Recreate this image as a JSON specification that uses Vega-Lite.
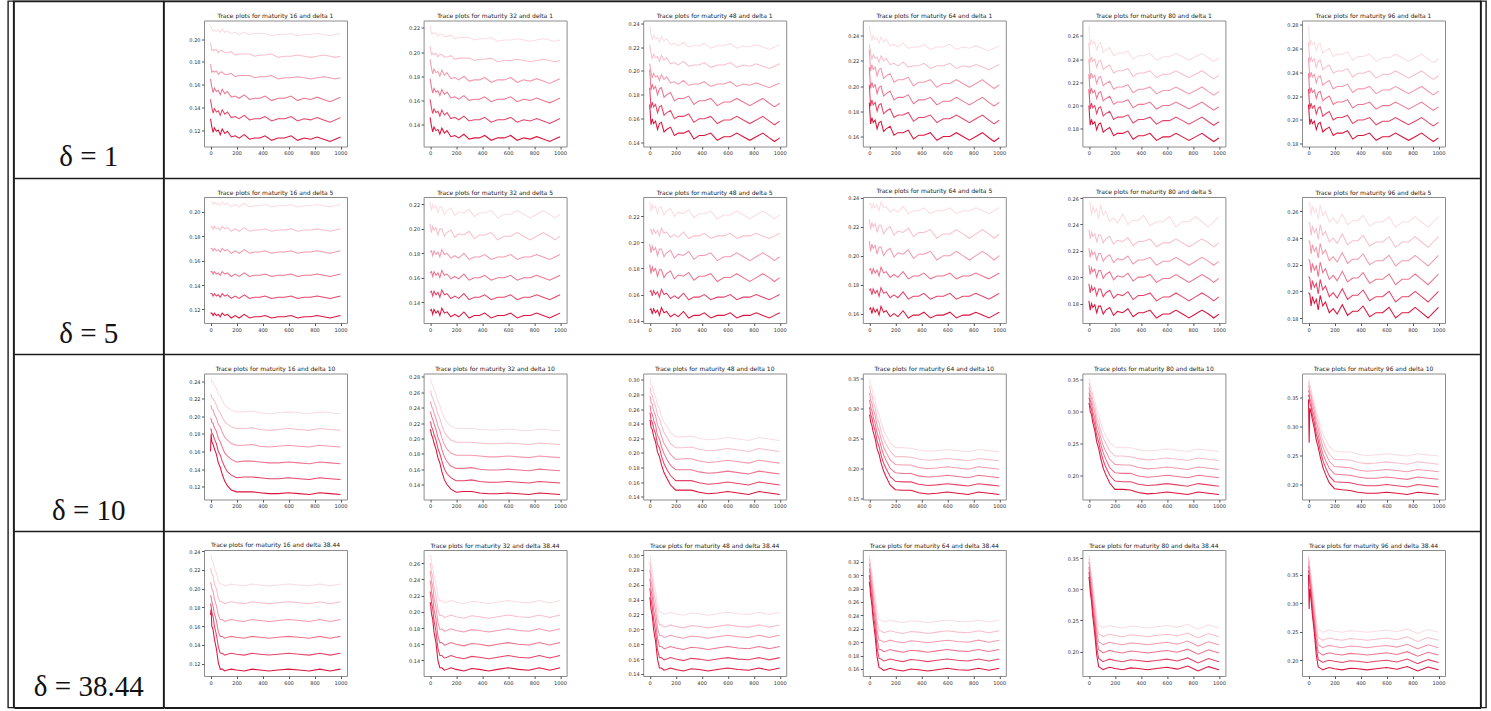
{
"$schema":"https://vega.github.io/schema/vega-lite/v6.json",
"background":"white",
"padding":{"left":7,"top":0,"right":0,"bottom":0},
"config":{"view":{"stroke":"#8c8c8c","strokeWidth":1},"font":"DejaVu Sans"},
"bounds":"flush",
"spacing":19.5,
"vconcat":[
{"hconcat":[
{"width":5.5,"height":706.5,"view":{"stroke":"#1c1c1c","strokeWidth":1.4},"data":{"values":[{}]},"mark":"text","encoding":{"text":{"value":" "}}},
{"width":149.5,"height":706.5,"view":{"stroke":"#1c1c1c","strokeWidth":1.4},
 "data":{"values":[{"d":"1","lab":"δ = 1"},{"d":"5","lab":"δ = 5"},{"d":"10","lab":"δ = 10"},{"d":"38.44","lab":"δ = 38.44"}]},
 "mark":{"type":"text","font":"Liberation Serif","fontSize":29,"align":"center","baseline":"alphabetic","color":"#111","dy":77},
 "encoding":{"y":{"field":"d","type":"nominal","scale":{"domain":["1","5","10","38.44"],"paddingInner":0,"paddingOuter":0},"axis":{"title":null,"labels":false,"ticks":false,"domain":false,"grid":true,"gridColor":"#1c1c1c","gridWidth":1.4,"tickBand":"extent"}},"text":{"field":"lab"}}},
{"width":1316.5,"height":706.5,"view":{"stroke":"#1c1c1c","strokeWidth":1.4},
 "data":{"values":[{"d":"1"},{"d":"5"},{"d":"10"},{"d":"38.44"}]},
 "mark":"text",
 "encoding":{"y":{"field":"d","type":"nominal","scale":{"domain":["1","5","10","38.44"],"paddingInner":0,"paddingOuter":0},"axis":{"title":null,"labels":false,"ticks":false,"domain":false,"grid":true,"gridColor":"#1c1c1c","gridWidth":1.4,"tickBand":"extent"}},"text":{"value":" "}}},
{"width":5,"height":706.5,"view":{"stroke":"#1c1c1c","strokeWidth":1.4},"data":{"values":[{}]},"mark":"text","encoding":{"text":{"value":" "}}}
],"spacing":0,"bounds":"flush"},
{"hconcat":[
{"width":196,"height":1,"view":{"stroke":null},"data":{"values":[{}]},"mark":"text","encoding":{"text":{"value":" "}}},
{
"data":{"values":[
{"t":"Trace plots for maturity 16 and delta 1","x":[0,10,20,30,45,60,75,90,110,130,160,190,220,260,300,340,380,420,470,520,570,620,670,720,770,820,870,920,960,1000],
"s1":[0.212,0.209,0.207,0.208,0.207,0.208,0.206,0.209,0.206,0.207,0.205,0.206,0.204,0.206,0.204,0.205,0.205,0.205,0.203,0.204,0.204,0.205,0.203,0.204,0.204,0.205,0.204,0.203,0.204,0.205],
"s2":[0.197,0.190,0.191,0.190,0.191,0.188,0.190,0.190,0.188,0.188,0.189,0.186,0.187,0.187,0.187,0.185,0.186,0.186,0.187,0.184,0.185,0.185,0.186,0.185,0.184,0.185,0.186,0.185,0.184,0.185],
"s3":[0.178,0.171,0.172,0.171,0.172,0.169,0.171,0.171,0.169,0.169,0.170,0.167,0.168,0.168,0.168,0.166,0.167,0.167,0.168,0.165,0.166,0.166,0.167,0.166,0.165,0.166,0.167,0.166,0.165,0.166],
"s4":[0.165,0.158,0.153,0.157,0.154,0.155,0.151,0.156,0.152,0.154,0.149,0.150,0.148,0.151,0.147,0.148,0.148,0.150,0.146,0.148,0.148,0.150,0.146,0.148,0.147,0.149,0.147,0.145,0.147,0.149],
"s5":[0.147,0.140,0.135,0.139,0.136,0.137,0.133,0.138,0.134,0.136,0.131,0.132,0.130,0.133,0.129,0.130,0.130,0.132,0.128,0.130,0.130,0.132,0.128,0.130,0.129,0.131,0.129,0.127,0.129,0.131],
"s6":[0.130,0.123,0.118,0.122,0.119,0.120,0.116,0.121,0.117,0.119,0.114,0.115,0.113,0.116,0.112,0.113,0.113,0.115,0.111,0.113,0.113,0.115,0.111,0.113,0.112,0.114,0.112,0.110,0.112,0.114]},
{"t":"Trace plots for maturity 32 and delta 1","x":[0,10,20,30,45,60,75,90,110,130,160,190,220,260,300,340,380,420,470,520,570,620,670,720,770,820,870,920,960,1000],
"s1":[0.222,0.215,0.216,0.215,0.216,0.213,0.215,0.215,0.213,0.213,0.214,0.211,0.212,0.212,0.212,0.210,0.211,0.211,0.212,0.209,0.210,0.210,0.211,0.210,0.209,0.210,0.211,0.210,0.209,0.210],
"s2":[0.205,0.198,0.199,0.198,0.199,0.196,0.198,0.198,0.196,0.196,0.197,0.194,0.195,0.195,0.195,0.193,0.194,0.194,0.195,0.192,0.193,0.193,0.194,0.193,0.192,0.193,0.194,0.193,0.192,0.193],
"s3":[0.194,0.187,0.182,0.186,0.183,0.184,0.180,0.185,0.181,0.183,0.178,0.179,0.177,0.180,0.176,0.177,0.177,0.179,0.175,0.177,0.177,0.179,0.175,0.177,0.176,0.178,0.176,0.174,0.176,0.178],
"s4":[0.178,0.171,0.166,0.170,0.167,0.168,0.164,0.169,0.165,0.167,0.162,0.163,0.161,0.164,0.160,0.161,0.161,0.163,0.159,0.161,0.161,0.163,0.159,0.161,0.160,0.162,0.160,0.158,0.160,0.162],
"s5":[0.161,0.154,0.149,0.153,0.150,0.151,0.147,0.152,0.148,0.150,0.145,0.146,0.144,0.147,0.143,0.144,0.144,0.146,0.142,0.144,0.144,0.146,0.142,0.144,0.143,0.145,0.143,0.141,0.143,0.145],
"s6":[0.146,0.139,0.134,0.138,0.135,0.136,0.132,0.137,0.133,0.135,0.130,0.131,0.129,0.132,0.128,0.129,0.129,0.131,0.127,0.129,0.129,0.131,0.127,0.129,0.128,0.130,0.128,0.126,0.128,0.130]},
{"t":"Trace plots for maturity 48 and delta 1","x":[0,10,20,30,45,60,75,90,110,130,160,190,220,260,300,340,380,420,470,520,570,620,670,720,770,820,870,920,960,1000],
"s1":[0.238,0.231,0.226,0.230,0.227,0.228,0.224,0.229,0.225,0.227,0.222,0.223,0.221,0.224,0.220,0.221,0.221,0.223,0.219,0.221,0.221,0.223,0.219,0.221,0.220,0.222,0.220,0.218,0.220,0.222],
"s2":[0.222,0.215,0.210,0.214,0.211,0.212,0.208,0.213,0.209,0.211,0.206,0.207,0.205,0.208,0.204,0.205,0.205,0.207,0.203,0.205,0.205,0.207,0.203,0.205,0.204,0.206,0.204,0.202,0.204,0.206],
"s3":[0.206,0.199,0.194,0.198,0.195,0.196,0.192,0.197,0.193,0.195,0.190,0.191,0.189,0.192,0.188,0.189,0.189,0.191,0.187,0.189,0.189,0.191,0.187,0.189,0.188,0.190,0.188,0.186,0.188,0.190],
"s4":[0.201,0.184,0.189,0.185,0.187,0.180,0.185,0.186,0.178,0.180,0.182,0.175,0.177,0.177,0.179,0.172,0.175,0.175,0.177,0.171,0.174,0.174,0.177,0.174,0.171,0.174,0.177,0.173,0.170,0.173],
"s5":[0.186,0.169,0.174,0.170,0.172,0.165,0.170,0.171,0.163,0.165,0.167,0.160,0.162,0.162,0.164,0.157,0.160,0.160,0.162,0.156,0.159,0.159,0.162,0.159,0.156,0.159,0.162,0.158,0.155,0.158],
"s6":[0.172,0.155,0.160,0.156,0.158,0.151,0.156,0.157,0.149,0.151,0.153,0.146,0.148,0.148,0.150,0.143,0.146,0.146,0.148,0.142,0.145,0.145,0.148,0.145,0.142,0.145,0.148,0.144,0.141,0.144]},
{"t":"Trace plots for maturity 64 and delta 1","x":[0,10,20,30,45,60,75,90,110,130,160,190,220,260,300,340,380,420,470,520,570,620,670,720,770,820,870,920,960,1000],
"s1":[0.248,0.241,0.236,0.240,0.237,0.238,0.234,0.239,0.235,0.237,0.232,0.233,0.231,0.234,0.230,0.231,0.231,0.233,0.229,0.231,0.231,0.233,0.229,0.231,0.230,0.232,0.230,0.228,0.230,0.232],
"s2":[0.233,0.226,0.221,0.225,0.222,0.223,0.219,0.224,0.220,0.222,0.217,0.218,0.216,0.219,0.215,0.216,0.216,0.218,0.214,0.216,0.216,0.218,0.214,0.216,0.215,0.217,0.215,0.213,0.215,0.217],
"s3":[0.229,0.212,0.217,0.213,0.215,0.208,0.213,0.214,0.206,0.208,0.210,0.203,0.205,0.205,0.207,0.200,0.203,0.203,0.205,0.199,0.202,0.202,0.205,0.202,0.199,0.202,0.205,0.201,0.198,0.201],
"s4":[0.215,0.198,0.203,0.199,0.201,0.194,0.199,0.200,0.192,0.194,0.196,0.189,0.191,0.191,0.193,0.186,0.189,0.189,0.191,0.185,0.188,0.188,0.191,0.188,0.185,0.188,0.191,0.187,0.184,0.187],
"s5":[0.201,0.184,0.189,0.185,0.187,0.180,0.185,0.186,0.178,0.180,0.182,0.175,0.177,0.177,0.179,0.172,0.175,0.175,0.177,0.171,0.174,0.174,0.177,0.174,0.171,0.174,0.177,0.173,0.170,0.173],
"s6":[0.187,0.170,0.175,0.171,0.173,0.166,0.171,0.172,0.164,0.166,0.168,0.161,0.163,0.163,0.165,0.158,0.161,0.161,0.163,0.157,0.160,0.160,0.163,0.160,0.157,0.160,0.163,0.159,0.156,0.159]},
{"t":"Trace plots for maturity 80 and delta 1","x":[0,10,20,30,45,60,75,90,110,130,160,190,220,260,300,340,380,420,470,520,570,620,670,720,770,820,870,920,960,1000],
"s1":[0.269,0.252,0.257,0.253,0.255,0.248,0.253,0.254,0.246,0.248,0.250,0.243,0.245,0.245,0.247,0.240,0.243,0.243,0.245,0.239,0.242,0.242,0.245,0.242,0.239,0.242,0.245,0.241,0.238,0.241],
"s2":[0.254,0.237,0.242,0.238,0.240,0.233,0.238,0.239,0.231,0.233,0.235,0.228,0.230,0.230,0.232,0.225,0.228,0.228,0.230,0.224,0.227,0.227,0.230,0.227,0.224,0.227,0.230,0.226,0.223,0.226],
"s3":[0.240,0.223,0.228,0.224,0.226,0.219,0.224,0.225,0.217,0.219,0.221,0.214,0.216,0.216,0.218,0.211,0.214,0.214,0.216,0.210,0.213,0.213,0.216,0.213,0.210,0.213,0.216,0.212,0.209,0.212],
"s4":[0.227,0.210,0.215,0.211,0.213,0.206,0.211,0.212,0.204,0.206,0.208,0.201,0.203,0.203,0.205,0.198,0.201,0.201,0.203,0.197,0.200,0.200,0.203,0.200,0.197,0.200,0.203,0.199,0.196,0.199],
"s5":[0.214,0.197,0.202,0.198,0.200,0.193,0.198,0.199,0.191,0.193,0.195,0.188,0.190,0.190,0.192,0.185,0.188,0.188,0.190,0.184,0.187,0.187,0.190,0.187,0.184,0.187,0.190,0.186,0.183,0.186],
"s6":[0.200,0.183,0.188,0.184,0.186,0.179,0.184,0.185,0.177,0.179,0.181,0.174,0.176,0.176,0.178,0.171,0.174,0.174,0.176,0.170,0.173,0.173,0.176,0.173,0.170,0.173,0.176,0.172,0.169,0.172]},
{"t":"Trace plots for maturity 96 and delta 1","x":[0,10,20,30,45,60,75,90,110,130,160,190,220,260,300,340,380,420,470,520,570,620,670,720,770,820,870,920,960,1000],
"s1":[0.279,0.262,0.267,0.263,0.265,0.258,0.263,0.264,0.256,0.258,0.260,0.253,0.255,0.255,0.257,0.250,0.253,0.253,0.255,0.249,0.252,0.252,0.255,0.252,0.249,0.252,0.255,0.251,0.248,0.251],
"s2":[0.265,0.248,0.253,0.249,0.251,0.244,0.249,0.250,0.242,0.244,0.246,0.239,0.241,0.241,0.243,0.236,0.239,0.239,0.241,0.235,0.238,0.238,0.241,0.238,0.235,0.238,0.241,0.237,0.234,0.237],
"s3":[0.252,0.235,0.240,0.236,0.238,0.231,0.236,0.237,0.229,0.231,0.233,0.226,0.228,0.228,0.230,0.223,0.226,0.226,0.228,0.222,0.225,0.225,0.228,0.225,0.222,0.225,0.228,0.224,0.221,0.224],
"s4":[0.239,0.222,0.227,0.223,0.225,0.218,0.223,0.224,0.216,0.218,0.220,0.213,0.215,0.215,0.217,0.210,0.213,0.213,0.215,0.209,0.212,0.212,0.215,0.212,0.209,0.212,0.215,0.211,0.208,0.211],
"s5":[0.226,0.209,0.214,0.210,0.212,0.205,0.210,0.211,0.203,0.205,0.207,0.200,0.202,0.202,0.204,0.197,0.200,0.200,0.202,0.196,0.199,0.199,0.202,0.199,0.196,0.199,0.202,0.198,0.195,0.198],
"s6":[0.213,0.196,0.201,0.197,0.199,0.192,0.197,0.198,0.190,0.192,0.194,0.187,0.189,0.189,0.191,0.184,0.187,0.187,0.189,0.183,0.186,0.186,0.189,0.186,0.183,0.186,0.189,0.185,0.182,0.185]},
{"t":"Trace plots for maturity 16 and delta 5","x":[0,10,20,30,45,60,75,90,110,130,160,190,220,260,300,340,380,420,470,520,570,620,670,720,770,820,870,920,960,1000],
"s1":[0.208,0.208,0.206,0.208,0.206,0.207,0.205,0.208,0.206,0.207,0.204,0.206,0.204,0.207,0.204,0.205,0.205,0.206,0.204,0.205,0.205,0.206,0.204,0.205,0.205,0.206,0.205,0.204,0.205,0.206],
"s2":[0.188,0.188,0.186,0.188,0.186,0.187,0.185,0.188,0.186,0.187,0.184,0.186,0.184,0.187,0.184,0.185,0.185,0.186,0.184,0.185,0.185,0.186,0.184,0.185,0.185,0.186,0.185,0.184,0.185,0.186],
"s3":[0.170,0.170,0.168,0.170,0.168,0.169,0.167,0.170,0.168,0.169,0.166,0.168,0.166,0.169,0.166,0.167,0.167,0.168,0.166,0.167,0.167,0.168,0.166,0.167,0.167,0.168,0.167,0.166,0.167,0.168],
"s4":[0.151,0.151,0.149,0.151,0.149,0.150,0.148,0.151,0.149,0.150,0.147,0.149,0.147,0.150,0.147,0.148,0.148,0.149,0.147,0.148,0.148,0.149,0.147,0.148,0.148,0.149,0.148,0.147,0.148,0.149],
"s5":[0.133,0.133,0.131,0.133,0.131,0.132,0.130,0.133,0.131,0.132,0.129,0.131,0.129,0.132,0.129,0.130,0.130,0.131,0.129,0.130,0.130,0.131,0.129,0.130,0.130,0.131,0.130,0.129,0.130,0.131],
"s6":[0.117,0.117,0.115,0.117,0.115,0.116,0.114,0.117,0.115,0.116,0.113,0.115,0.113,0.116,0.113,0.114,0.114,0.115,0.113,0.114,0.114,0.115,0.113,0.114,0.114,0.115,0.114,0.113,0.114,0.115]},
{"t":"Trace plots for maturity 32 and delta 5","x":[0,10,20,30,45,60,75,90,110,130,160,190,220,260,300,340,380,420,470,520,570,620,670,720,770,820,870,920,960,1000],
"s1":[0.222,0.215,0.220,0.217,0.219,0.213,0.218,0.218,0.212,0.215,0.217,0.211,0.214,0.213,0.216,0.210,0.213,0.213,0.215,0.209,0.212,0.212,0.215,0.212,0.209,0.212,0.215,0.212,0.209,0.212],
"s2":[0.204,0.197,0.202,0.199,0.201,0.195,0.200,0.200,0.194,0.197,0.199,0.193,0.196,0.195,0.198,0.192,0.195,0.195,0.197,0.191,0.194,0.194,0.197,0.194,0.191,0.194,0.197,0.194,0.191,0.194],
"s3":[0.181,0.182,0.178,0.182,0.179,0.181,0.177,0.183,0.179,0.180,0.176,0.178,0.176,0.180,0.175,0.177,0.177,0.179,0.175,0.177,0.177,0.179,0.175,0.177,0.177,0.179,0.177,0.175,0.177,0.179],
"s4":[0.164,0.165,0.161,0.165,0.162,0.164,0.160,0.166,0.162,0.163,0.159,0.161,0.159,0.163,0.158,0.160,0.160,0.162,0.158,0.160,0.160,0.162,0.158,0.160,0.160,0.162,0.160,0.158,0.160,0.162],
"s5":[0.148,0.149,0.145,0.149,0.146,0.148,0.144,0.150,0.146,0.147,0.143,0.145,0.143,0.147,0.142,0.144,0.144,0.146,0.142,0.144,0.144,0.146,0.142,0.144,0.144,0.146,0.144,0.142,0.144,0.146],
"s6":[0.133,0.134,0.130,0.134,0.131,0.133,0.129,0.135,0.131,0.132,0.128,0.130,0.128,0.132,0.127,0.129,0.129,0.131,0.127,0.129,0.129,0.131,0.127,0.129,0.129,0.131,0.129,0.127,0.129,0.131]},
{"t":"Trace plots for maturity 48 and delta 5","x":[0,10,20,30,45,60,75,90,110,130,160,190,220,260,300,340,380,420,470,520,570,620,670,720,770,820,870,920,960,1000],
"s1":[0.231,0.224,0.229,0.226,0.228,0.222,0.227,0.227,0.221,0.224,0.226,0.220,0.223,0.222,0.225,0.219,0.222,0.222,0.224,0.218,0.221,0.221,0.224,0.221,0.218,0.221,0.224,0.221,0.218,0.221],
"s2":[0.209,0.210,0.206,0.210,0.207,0.209,0.205,0.211,0.207,0.208,0.204,0.206,0.204,0.208,0.203,0.205,0.205,0.207,0.203,0.205,0.205,0.207,0.203,0.205,0.205,0.207,0.205,0.203,0.205,0.207],
"s3":[0.199,0.192,0.197,0.194,0.196,0.190,0.195,0.195,0.189,0.192,0.194,0.188,0.191,0.190,0.193,0.187,0.190,0.190,0.192,0.186,0.189,0.189,0.192,0.189,0.186,0.189,0.192,0.189,0.186,0.189],
"s4":[0.183,0.176,0.181,0.178,0.180,0.174,0.179,0.179,0.173,0.176,0.178,0.172,0.175,0.174,0.177,0.171,0.174,0.174,0.176,0.170,0.173,0.173,0.176,0.173,0.170,0.173,0.176,0.173,0.170,0.173],
"s5":[0.162,0.163,0.159,0.163,0.160,0.162,0.158,0.164,0.160,0.161,0.157,0.159,0.157,0.161,0.156,0.158,0.158,0.160,0.156,0.158,0.158,0.160,0.156,0.158,0.158,0.160,0.158,0.156,0.158,0.160],
"s6":[0.148,0.149,0.145,0.149,0.146,0.148,0.144,0.150,0.146,0.147,0.143,0.145,0.143,0.147,0.142,0.144,0.144,0.146,0.142,0.144,0.144,0.146,0.142,0.144,0.144,0.146,0.144,0.142,0.144,0.146]},
{"t":"Trace plots for maturity 64 and delta 5","x":[0,10,20,30,45,60,75,90,110,130,160,190,220,260,300,340,380,420,470,520,570,620,670,720,770,820,870,920,960,1000],
"s1":[0.235,0.236,0.232,0.236,0.233,0.235,0.231,0.237,0.233,0.234,0.230,0.232,0.230,0.234,0.229,0.231,0.231,0.233,0.229,0.231,0.231,0.233,0.229,0.231,0.231,0.233,0.231,0.229,0.231,0.233],
"s2":[0.225,0.218,0.223,0.220,0.222,0.216,0.221,0.221,0.215,0.218,0.220,0.214,0.217,0.216,0.219,0.213,0.216,0.216,0.218,0.212,0.215,0.215,0.218,0.215,0.212,0.215,0.218,0.215,0.212,0.215],
"s3":[0.210,0.203,0.208,0.205,0.207,0.201,0.206,0.206,0.200,0.203,0.205,0.199,0.202,0.201,0.204,0.198,0.201,0.201,0.203,0.197,0.200,0.200,0.203,0.200,0.197,0.200,0.203,0.200,0.197,0.200],
"s4":[0.190,0.191,0.187,0.191,0.188,0.190,0.186,0.192,0.188,0.189,0.185,0.187,0.185,0.189,0.184,0.186,0.186,0.188,0.184,0.186,0.186,0.188,0.184,0.186,0.186,0.188,0.186,0.184,0.186,0.188],
"s5":[0.176,0.177,0.173,0.177,0.174,0.176,0.172,0.178,0.174,0.175,0.171,0.173,0.171,0.175,0.170,0.172,0.172,0.174,0.170,0.172,0.172,0.174,0.170,0.172,0.172,0.174,0.172,0.170,0.172,0.174],
"s6":[0.163,0.164,0.160,0.164,0.161,0.163,0.159,0.165,0.161,0.162,0.158,0.160,0.158,0.162,0.157,0.159,0.159,0.161,0.157,0.159,0.159,0.161,0.157,0.159,0.159,0.161,0.159,0.157,0.159,0.161]},
{"t":"Trace plots for maturity 80 and delta 5","x":[0,10,20,30,45,60,75,90,110,130,160,190,220,260,300,340,380,420,470,520,570,620,670,720,770,820,870,920,960,1000],
"s1":[0.257,0.256,0.247,0.254,0.249,0.252,0.244,0.255,0.247,0.250,0.242,0.245,0.241,0.248,0.240,0.243,0.243,0.247,0.239,0.242,0.242,0.246,0.238,0.242,0.242,0.246,0.242,0.238,0.242,0.246],
"s2":[0.236,0.229,0.234,0.231,0.233,0.227,0.232,0.232,0.226,0.229,0.231,0.225,0.228,0.227,0.230,0.224,0.227,0.227,0.229,0.223,0.226,0.226,0.229,0.226,0.223,0.226,0.229,0.226,0.223,0.226],
"s3":[0.222,0.215,0.220,0.217,0.219,0.213,0.218,0.218,0.212,0.215,0.217,0.211,0.214,0.213,0.216,0.210,0.213,0.213,0.215,0.209,0.212,0.212,0.215,0.212,0.209,0.212,0.215,0.212,0.209,0.212],
"s4":[0.209,0.202,0.207,0.204,0.206,0.200,0.205,0.205,0.199,0.202,0.204,0.198,0.201,0.200,0.203,0.197,0.200,0.200,0.202,0.196,0.199,0.199,0.202,0.199,0.196,0.199,0.202,0.199,0.196,0.199],
"s5":[0.195,0.188,0.193,0.190,0.192,0.186,0.191,0.191,0.185,0.188,0.190,0.184,0.187,0.186,0.189,0.183,0.186,0.186,0.188,0.182,0.185,0.185,0.188,0.185,0.182,0.185,0.188,0.185,0.182,0.185],
"s6":[0.182,0.175,0.180,0.177,0.179,0.173,0.178,0.178,0.172,0.175,0.177,0.171,0.174,0.173,0.176,0.170,0.173,0.173,0.175,0.169,0.172,0.172,0.175,0.172,0.169,0.172,0.175,0.172,0.169,0.172]},
{"t":"Trace plots for maturity 96 and delta 5","x":[0,10,20,30,45,60,75,90,110,130,160,190,220,260,300,340,380,420,470,520,570,620,670,720,770,820,870,920,960,1000],
"s1":[0.267,0.266,0.257,0.264,0.259,0.262,0.254,0.265,0.257,0.260,0.252,0.255,0.251,0.258,0.250,0.253,0.253,0.257,0.249,0.252,0.252,0.256,0.248,0.252,0.252,0.256,0.252,0.248,0.252,0.256],
"s2":[0.252,0.251,0.242,0.249,0.244,0.247,0.239,0.250,0.242,0.245,0.237,0.240,0.236,0.243,0.235,0.238,0.238,0.242,0.234,0.237,0.237,0.241,0.233,0.237,0.237,0.241,0.237,0.233,0.237,0.241],
"s3":[0.238,0.237,0.228,0.235,0.230,0.233,0.225,0.236,0.228,0.231,0.223,0.226,0.222,0.229,0.221,0.224,0.224,0.228,0.220,0.223,0.223,0.227,0.219,0.223,0.223,0.227,0.223,0.219,0.223,0.227],
"s4":[0.224,0.223,0.214,0.221,0.216,0.219,0.211,0.222,0.214,0.217,0.209,0.212,0.208,0.215,0.207,0.210,0.210,0.214,0.206,0.209,0.209,0.213,0.205,0.209,0.209,0.213,0.209,0.205,0.209,0.213],
"s5":[0.211,0.210,0.201,0.208,0.203,0.206,0.198,0.209,0.201,0.204,0.196,0.199,0.195,0.202,0.194,0.197,0.197,0.201,0.193,0.196,0.196,0.200,0.192,0.196,0.196,0.200,0.196,0.192,0.196,0.200],
"s6":[0.199,0.198,0.189,0.196,0.191,0.194,0.186,0.197,0.189,0.192,0.184,0.187,0.183,0.190,0.182,0.185,0.185,0.189,0.181,0.184,0.184,0.188,0.180,0.184,0.184,0.188,0.184,0.180,0.184,0.188]},
{"t":"Trace plots for maturity 16 and delta 10","x":[0,5,10,20,30,45,60,75,90,110,130,160,200,260,320,380,450,520,600,680,760,840,920,1000],
"s1":[0.243,0.243,0.239,0.239,0.235,0.232,0.225,0.223,0.218,0.213,0.210,0.207,0.205,0.205,0.206,0.204,0.203,0.204,0.205,0.204,0.203,0.205,0.204,0.203],
"s2":[0.225,0.225,0.221,0.220,0.217,0.213,0.207,0.204,0.199,0.194,0.191,0.188,0.186,0.186,0.187,0.185,0.184,0.185,0.186,0.185,0.184,0.186,0.185,0.184],
"s3":[0.212,0.212,0.208,0.207,0.202,0.198,0.191,0.188,0.182,0.176,0.173,0.169,0.167,0.167,0.168,0.166,0.165,0.166,0.167,0.166,0.165,0.167,0.166,0.165],
"s4":[0.198,0.197,0.193,0.192,0.187,0.183,0.175,0.171,0.165,0.158,0.155,0.151,0.148,0.149,0.149,0.148,0.147,0.147,0.148,0.147,0.146,0.148,0.147,0.146],
"s5":[0.186,0.185,0.181,0.179,0.174,0.169,0.160,0.156,0.149,0.142,0.137,0.133,0.130,0.131,0.131,0.130,0.129,0.129,0.130,0.129,0.128,0.130,0.129,0.128],
"s6":[0.160,0.180,0.171,0.168,0.163,0.157,0.147,0.142,0.134,0.126,0.121,0.116,0.114,0.114,0.114,0.113,0.112,0.112,0.113,0.112,0.111,0.113,0.112,0.111]},
{"t":"Trace plots for maturity 32 and delta 10","x":[0,5,10,20,30,45,60,75,90,110,130,160,200,260,320,380,450,520,600,680,760,840,920,1000],
"s1":[0.278,0.277,0.272,0.270,0.264,0.258,0.248,0.243,0.234,0.226,0.221,0.216,0.213,0.213,0.213,0.212,0.211,0.211,0.212,0.211,0.210,0.212,0.211,0.210],
"s2":[0.262,0.261,0.256,0.253,0.248,0.241,0.231,0.226,0.217,0.208,0.203,0.198,0.195,0.195,0.195,0.194,0.193,0.193,0.194,0.193,0.192,0.194,0.193,0.192],
"s3":[0.248,0.247,0.242,0.239,0.233,0.226,0.216,0.210,0.201,0.192,0.186,0.181,0.178,0.178,0.178,0.177,0.176,0.176,0.177,0.176,0.175,0.177,0.176,0.175],
"s4":[0.235,0.234,0.229,0.225,0.219,0.212,0.201,0.195,0.186,0.176,0.170,0.164,0.161,0.161,0.162,0.160,0.159,0.159,0.160,0.159,0.158,0.160,0.159,0.158],
"s5":[0.222,0.221,0.215,0.212,0.205,0.198,0.187,0.180,0.171,0.160,0.154,0.149,0.145,0.145,0.146,0.144,0.143,0.143,0.144,0.143,0.142,0.144,0.143,0.142],
"s6":[0.212,0.210,0.205,0.201,0.194,0.186,0.175,0.168,0.157,0.146,0.140,0.134,0.130,0.131,0.131,0.129,0.128,0.128,0.129,0.128,0.127,0.129,0.128,0.127]},
{"t":"Trace plots for maturity 48 and delta 10","x":[0,5,10,20,30,45,60,75,90,110,130,160,200,260,320,380,450,520,600,680,760,840,920,1000],
"s1":[0.302,0.301,0.293,0.292,0.284,0.277,0.265,0.261,0.251,0.242,0.237,0.228,0.222,0.222,0.223,0.220,0.218,0.219,0.221,0.219,0.217,0.221,0.219,0.217],
"s2":[0.290,0.289,0.281,0.279,0.271,0.264,0.252,0.247,0.238,0.228,0.222,0.213,0.207,0.207,0.208,0.205,0.203,0.204,0.206,0.204,0.202,0.206,0.204,0.202],
"s3":[0.278,0.276,0.269,0.267,0.258,0.251,0.238,0.233,0.223,0.213,0.207,0.198,0.191,0.192,0.192,0.189,0.187,0.188,0.190,0.188,0.186,0.190,0.188,0.186],
"s4":[0.265,0.263,0.256,0.253,0.245,0.238,0.224,0.219,0.209,0.199,0.192,0.183,0.177,0.177,0.177,0.174,0.172,0.173,0.175,0.173,0.171,0.175,0.173,0.171],
"s5":[0.255,0.253,0.245,0.242,0.234,0.226,0.212,0.207,0.196,0.185,0.178,0.169,0.162,0.162,0.162,0.159,0.157,0.158,0.160,0.158,0.156,0.160,0.158,0.156],
"s6":[0.245,0.243,0.235,0.232,0.223,0.215,0.201,0.195,0.184,0.173,0.166,0.156,0.149,0.149,0.149,0.146,0.144,0.145,0.147,0.145,0.143,0.147,0.145,0.143]},
{"t":"Trace plots for maturity 64 and delta 10","x":[0,5,10,20,30,45,60,75,90,110,130,160,200,260,320,380,450,520,600,680,760,840,920,1000],
"s1":[0.350,0.347,0.338,0.334,0.324,0.314,0.298,0.290,0.277,0.264,0.255,0.243,0.235,0.235,0.234,0.231,0.229,0.230,0.232,0.230,0.228,0.232,0.230,0.228],
"s2":[0.338,0.335,0.326,0.322,0.311,0.301,0.284,0.276,0.263,0.249,0.240,0.229,0.220,0.220,0.219,0.216,0.214,0.215,0.217,0.215,0.213,0.217,0.215,0.213],
"s3":[0.326,0.323,0.314,0.309,0.299,0.288,0.272,0.263,0.250,0.236,0.227,0.215,0.207,0.206,0.206,0.202,0.200,0.201,0.203,0.201,0.199,0.203,0.201,0.199],
"s4":[0.314,0.311,0.302,0.297,0.286,0.275,0.259,0.250,0.237,0.223,0.213,0.201,0.193,0.192,0.192,0.188,0.186,0.187,0.189,0.187,0.185,0.189,0.187,0.185],
"s5":[0.302,0.299,0.290,0.285,0.274,0.263,0.246,0.237,0.223,0.209,0.200,0.187,0.179,0.178,0.178,0.174,0.172,0.173,0.175,0.173,0.171,0.175,0.173,0.171],
"s6":[0.290,0.287,0.278,0.272,0.261,0.250,0.233,0.224,0.210,0.196,0.186,0.173,0.165,0.164,0.164,0.160,0.158,0.159,0.161,0.159,0.157,0.161,0.159,0.157]},
{"t":"Trace plots for maturity 80 and delta 10","x":[0,5,10,20,30,45,60,75,90,110,130,160,200,260,320,380,450,520,600,680,760,840,920,1000],
"s1":[0.352,0.350,0.341,0.337,0.327,0.318,0.303,0.296,0.284,0.271,0.263,0.252,0.245,0.244,0.244,0.241,0.239,0.240,0.242,0.240,0.238,0.242,0.240,0.238],
"s2":[0.345,0.342,0.333,0.329,0.319,0.309,0.293,0.285,0.272,0.259,0.251,0.239,0.231,0.231,0.230,0.227,0.225,0.226,0.228,0.226,0.224,0.228,0.226,0.224],
"s3":[0.338,0.335,0.326,0.321,0.310,0.300,0.283,0.274,0.261,0.247,0.238,0.226,0.218,0.217,0.217,0.213,0.211,0.212,0.214,0.212,0.210,0.214,0.212,0.210],
"s4":[0.330,0.327,0.318,0.312,0.301,0.290,0.273,0.264,0.250,0.236,0.226,0.213,0.205,0.204,0.204,0.200,0.198,0.199,0.201,0.199,0.197,0.201,0.199,0.197],
"s5":[0.322,0.319,0.309,0.304,0.292,0.280,0.263,0.253,0.239,0.224,0.214,0.201,0.192,0.191,0.191,0.187,0.185,0.186,0.188,0.186,0.184,0.188,0.186,0.184],
"s6":[0.314,0.310,0.301,0.295,0.283,0.271,0.253,0.243,0.228,0.212,0.202,0.189,0.179,0.179,0.178,0.174,0.172,0.173,0.175,0.173,0.171,0.175,0.173,0.171]},
{"t":"Trace plots for maturity 96 and delta 10","x":[0,5,10,20,30,45,60,75,90,110,130,160,200,260,320,380,450,520,600,680,760,840,920,1000],
"s1":[0.382,0.379,0.370,0.364,0.353,0.342,0.325,0.316,0.302,0.288,0.278,0.265,0.257,0.256,0.256,0.252,0.250,0.251,0.253,0.251,0.249,0.253,0.251,0.249],
"s2":[0.376,0.372,0.363,0.357,0.345,0.334,0.316,0.306,0.291,0.276,0.265,0.252,0.243,0.243,0.242,0.238,0.236,0.237,0.239,0.237,0.235,0.239,0.237,0.235],
"s3":[0.370,0.366,0.356,0.350,0.338,0.325,0.307,0.296,0.281,0.265,0.254,0.240,0.231,0.230,0.229,0.225,0.223,0.224,0.226,0.224,0.222,0.226,0.224,0.222],
"s4":[0.362,0.358,0.348,0.341,0.329,0.316,0.297,0.285,0.270,0.253,0.242,0.228,0.218,0.217,0.216,0.213,0.211,0.211,0.213,0.211,0.209,0.213,0.211,0.209],
"s5":[0.354,0.350,0.340,0.333,0.320,0.306,0.286,0.275,0.259,0.242,0.230,0.215,0.205,0.204,0.203,0.200,0.198,0.198,0.200,0.198,0.196,0.200,0.198,0.196],
"s6":[0.346,0.272,0.331,0.324,0.311,0.296,0.276,0.264,0.248,0.230,0.218,0.203,0.193,0.191,0.190,0.187,0.185,0.185,0.187,0.185,0.183,0.187,0.185,0.183]},
{"t":"Trace plots for maturity 16 and delta 38.44","x":[0,5,10,20,30,45,60,75,90,110,130,160,200,260,320,380,450,520,600,680,760,840,920,1000],
"s1":[0.236,0.235,0.231,0.228,0.222,0.217,0.208,0.205,0.205,0.203,0.204,0.205,0.204,0.203,0.205,0.204,0.203,0.204,0.205,0.204,0.203,0.205,0.203,0.205],
"s2":[0.222,0.220,0.216,0.213,0.205,0.200,0.190,0.186,0.186,0.184,0.185,0.186,0.185,0.184,0.186,0.185,0.184,0.185,0.186,0.185,0.184,0.186,0.184,0.186],
"s3":[0.207,0.205,0.200,0.197,0.189,0.182,0.172,0.167,0.167,0.165,0.166,0.167,0.166,0.165,0.167,0.166,0.165,0.166,0.167,0.166,0.165,0.167,0.165,0.167],
"s4":[0.193,0.191,0.186,0.181,0.173,0.166,0.154,0.149,0.149,0.147,0.148,0.149,0.148,0.147,0.149,0.148,0.147,0.148,0.149,0.148,0.147,0.149,0.147,0.149],
"s5":[0.184,0.181,0.175,0.170,0.160,0.151,0.138,0.131,0.131,0.129,0.130,0.131,0.130,0.129,0.131,0.130,0.129,0.130,0.131,0.130,0.129,0.131,0.129,0.131],
"s6":[0.172,0.178,0.160,0.156,0.146,0.136,0.121,0.114,0.114,0.112,0.113,0.114,0.113,0.112,0.114,0.113,0.112,0.113,0.114,0.113,0.112,0.114,0.112,0.114]},
{"t":"Trace plots for maturity 32 and delta 38.44","x":[0,5,10,20,30,45,60,75,90,110,130,160,200,260,320,380,450,520,600,680,760,840,920,1000],
"s1":[0.270,0.268,0.260,0.256,0.244,0.235,0.219,0.213,0.214,0.211,0.212,0.214,0.212,0.210,0.213,0.212,0.210,0.212,0.214,0.212,0.211,0.214,0.211,0.214],
"s2":[0.260,0.257,0.249,0.244,0.230,0.220,0.203,0.195,0.196,0.193,0.194,0.196,0.194,0.192,0.195,0.194,0.192,0.194,0.196,0.194,0.193,0.196,0.193,0.196],
"s3":[0.250,0.247,0.238,0.232,0.217,0.206,0.187,0.178,0.179,0.176,0.177,0.179,0.177,0.175,0.178,0.177,0.175,0.177,0.179,0.177,0.176,0.179,0.176,0.179],
"s4":[0.238,0.235,0.225,0.218,0.203,0.191,0.170,0.162,0.162,0.159,0.160,0.162,0.160,0.158,0.161,0.160,0.158,0.160,0.162,0.160,0.159,0.162,0.159,0.162],
"s5":[0.225,0.221,0.212,0.204,0.189,0.176,0.155,0.146,0.146,0.143,0.144,0.146,0.144,0.142,0.145,0.144,0.142,0.144,0.146,0.144,0.143,0.146,0.143,0.146],
"s6":[0.212,0.208,0.198,0.191,0.175,0.162,0.140,0.131,0.131,0.128,0.129,0.131,0.129,0.127,0.130,0.129,0.127,0.129,0.131,0.129,0.128,0.131,0.128,0.131]},
{"t":"Trace plots for maturity 48 and delta 38.44","x":[0,5,10,20,30,45,60,75,90,110,130,160,200,260,320,380,450,520,600,680,760,840,920,1000],
"s1":[0.300,0.296,0.287,0.280,0.265,0.252,0.232,0.223,0.223,0.220,0.221,0.223,0.221,0.219,0.222,0.221,0.219,0.221,0.223,0.221,0.220,0.223,0.220,0.223],
"s2":[0.290,0.286,0.276,0.268,0.252,0.238,0.216,0.206,0.206,0.203,0.204,0.206,0.204,0.202,0.205,0.204,0.202,0.204,0.206,0.204,0.203,0.206,0.203,0.206],
"s3":[0.280,0.276,0.265,0.257,0.240,0.225,0.202,0.192,0.192,0.189,0.190,0.192,0.190,0.188,0.191,0.190,0.188,0.190,0.192,0.190,0.189,0.192,0.189,0.192],
"s4":[0.268,0.263,0.253,0.244,0.227,0.211,0.188,0.177,0.177,0.174,0.175,0.177,0.175,0.173,0.176,0.175,0.173,0.175,0.177,0.175,0.174,0.177,0.174,0.177],
"s5":[0.255,0.250,0.240,0.230,0.213,0.197,0.173,0.162,0.162,0.159,0.160,0.162,0.160,0.158,0.161,0.160,0.158,0.160,0.162,0.160,0.159,0.162,0.159,0.162],
"s6":[0.243,0.238,0.227,0.218,0.200,0.184,0.160,0.148,0.148,0.145,0.146,0.148,0.146,0.144,0.147,0.146,0.144,0.146,0.148,0.146,0.145,0.148,0.145,0.148]},
{"t":"Trace plots for maturity 64 and delta 38.44","x":[0,5,10,20,30,45,60,75,90,110,130,160,200,260,320,380,450,520,600,680,760,840,920,1000],
"s1":[0.330,0.325,0.314,0.304,0.286,0.270,0.245,0.233,0.233,0.230,0.231,0.233,0.231,0.229,0.232,0.231,0.229,0.231,0.233,0.231,0.230,0.233,0.230,0.233],
"s2":[0.325,0.319,0.308,0.296,0.277,0.258,0.231,0.217,0.217,0.214,0.215,0.217,0.215,0.213,0.216,0.215,0.213,0.215,0.217,0.215,0.214,0.217,0.214,0.217],
"s3":[0.318,0.312,0.300,0.287,0.267,0.246,0.218,0.203,0.203,0.200,0.201,0.203,0.201,0.199,0.202,0.201,0.199,0.201,0.203,0.201,0.200,0.203,0.200,0.203],
"s4":[0.310,0.303,0.291,0.278,0.256,0.235,0.205,0.189,0.189,0.186,0.187,0.189,0.187,0.185,0.188,0.187,0.185,0.187,0.189,0.187,0.186,0.189,0.186,0.189],
"s5":[0.300,0.293,0.280,0.266,0.245,0.222,0.191,0.176,0.175,0.172,0.173,0.175,0.173,0.171,0.174,0.173,0.171,0.173,0.175,0.173,0.172,0.175,0.172,0.175],
"s6":[0.290,0.283,0.270,0.255,0.233,0.209,0.178,0.162,0.161,0.158,0.159,0.161,0.159,0.157,0.160,0.159,0.157,0.159,0.161,0.159,0.158,0.161,0.158,0.161]},
{"t":"Trace plots for maturity 80 and delta 38.44","x":[0,5,10,20,30,45,60,75,90,110,130,160,200,260,320,380,450,520,600,680,760,840,920,1000],
"s1":[0.355,0.349,0.337,0.325,0.305,0.285,0.256,0.242,0.241,0.238,0.240,0.242,0.240,0.238,0.241,0.240,0.238,0.240,0.242,0.239,0.244,0.236,0.243,0.238],
"s2":[0.350,0.343,0.331,0.317,0.296,0.274,0.244,0.228,0.227,0.224,0.226,0.228,0.226,0.224,0.227,0.226,0.224,0.226,0.228,0.225,0.230,0.222,0.229,0.224],
"s3":[0.344,0.337,0.324,0.309,0.287,0.263,0.232,0.216,0.214,0.211,0.213,0.215,0.213,0.211,0.214,0.213,0.211,0.213,0.215,0.212,0.217,0.209,0.216,0.211],
"s4":[0.336,0.328,0.315,0.300,0.277,0.252,0.220,0.203,0.201,0.198,0.200,0.202,0.200,0.198,0.201,0.200,0.198,0.200,0.202,0.199,0.204,0.196,0.203,0.198],
"s5":[0.328,0.320,0.306,0.290,0.266,0.241,0.207,0.189,0.187,0.184,0.186,0.188,0.186,0.184,0.187,0.186,0.184,0.186,0.188,0.185,0.190,0.182,0.189,0.184],
"s6":[0.320,0.312,0.297,0.281,0.256,0.229,0.195,0.176,0.174,0.171,0.173,0.175,0.173,0.171,0.174,0.173,0.171,0.173,0.175,0.172,0.177,0.169,0.176,0.171]},
{"t":"Trace plots for maturity 96 and delta 38.44","x":[0,5,10,20,30,45,60,75,90,110,130,160,200,260,320,380,450,520,600,680,760,840,920,1000],
"s1":[0.385,0.378,0.364,0.349,0.327,0.303,0.270,0.254,0.252,0.249,0.251,0.253,0.251,0.249,0.252,0.251,0.249,0.251,0.253,0.250,0.255,0.247,0.254,0.249],
"s2":[0.380,0.372,0.358,0.342,0.318,0.292,0.258,0.240,0.238,0.235,0.237,0.239,0.237,0.235,0.238,0.237,0.235,0.237,0.239,0.236,0.241,0.233,0.240,0.235],
"s3":[0.374,0.366,0.351,0.334,0.309,0.282,0.246,0.227,0.225,0.222,0.224,0.226,0.224,0.222,0.225,0.224,0.222,0.224,0.226,0.223,0.228,0.220,0.227,0.222],
"s4":[0.366,0.357,0.342,0.325,0.299,0.270,0.234,0.214,0.212,0.209,0.211,0.213,0.211,0.209,0.212,0.211,0.209,0.211,0.213,0.210,0.215,0.207,0.214,0.209],
"s5":[0.358,0.349,0.334,0.315,0.289,0.259,0.222,0.201,0.199,0.196,0.198,0.200,0.198,0.196,0.199,0.198,0.196,0.198,0.200,0.197,0.202,0.194,0.201,0.196],
"s6":[0.350,0.290,0.325,0.306,0.279,0.248,0.209,0.188,0.186,0.183,0.185,0.187,0.185,0.183,0.186,0.185,0.183,0.185,0.187,0.184,0.189,0.181,0.188,0.183]}
]},
"transform":[{"flatten":["x","s1","s2","s3","s4","s5","s6"]},{"fold":["s1","s2","s3","s4","s5","s6"],"as":["k","y"]}],
"facet":{"field":"t","type":"nominal","sort":["Trace plots for maturity 16 and delta 1","Trace plots for maturity 32 and delta 1","Trace plots for maturity 48 and delta 1","Trace plots for maturity 64 and delta 1","Trace plots for maturity 80 and delta 1","Trace plots for maturity 96 and delta 1","Trace plots for maturity 16 and delta 5","Trace plots for maturity 32 and delta 5","Trace plots for maturity 48 and delta 5","Trace plots for maturity 64 and delta 5","Trace plots for maturity 80 and delta 5","Trace plots for maturity 96 and delta 5","Trace plots for maturity 16 and delta 10","Trace plots for maturity 32 and delta 10","Trace plots for maturity 48 and delta 10","Trace plots for maturity 64 and delta 10","Trace plots for maturity 80 and delta 10","Trace plots for maturity 96 and delta 10","Trace plots for maturity 16 and delta 38.44","Trace plots for maturity 32 and delta 38.44","Trace plots for maturity 48 and delta 38.44","Trace plots for maturity 64 and delta 38.44","Trace plots for maturity 80 and delta 38.44","Trace plots for maturity 96 and delta 38.44"],
 "header":{"title":null,"labelFontSize":6,"labelFont":"DejaVu Sans","labelColor":"#222","labelPadding":1.5}},
"columns":6,
"spacing":{"row":50.5,"column":76.6},
"bounds":"flush",
"resolve":{"scale":{"x":"independent","y":"independent"}},
"spec":{
 "width":143,"height":126,
 "mark":{"type":"line","strokeWidth":1.05},
 "encoding":{
  "x":{"field":"x","type":"quantitative","scale":{"domain":[-50,1050],"nice":false,"zero":false},"axis":{"values":[0,200,400,600,800,1000],"format":"d","title":null,"grid":false,"domain":false,"labelFontSize":5.1,"labelColor":"#333","tickSize":2.5,"tickColor":"#555","labelPadding":1.5,"labelFlush":false,"labelOverlap":false}},
  "y":{"field":"y","type":"quantitative","scale":{"zero":false,"nice":false,"padding":5},"axis":{"tickCount":6,"title":null,"grid":false,"domain":false,"labelFontSize":5,"labelColor":"#333","tickSize":2.5,"tickColor":"#555","labelPadding":1.5,"labelOverlap":false}},
  "color":{"field":"k","type":"nominal","scale":{"domain":["s1","s2","s3","s4","s5","s6"],"range":["#fadde3","#f7bfcb","#f29bae","#ec7590","#e54468","#dc143c"]},"legend":null}
 }
}
}
],"spacing":0,"bounds":"flush"}
]
}
